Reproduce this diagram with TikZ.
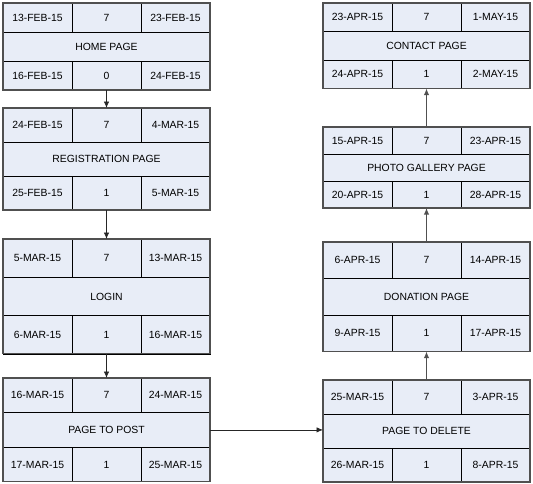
\documentclass[tikz,border=0pt]{standalone}
\usepackage{fontspec}
\setmainfont{Liberation Sans}
\usetikzlibrary{arrows.meta}
\definecolor{cellfill}{HTML}{E8EDF7}
\definecolor{edgegray}{HTML}{505050}
\tikzset{
  cell/.style={draw=black, line width=0.7pt, fill=cellfill, anchor=north west,
    inner sep=0pt, outer sep=0pt, minimum width=69pt, font=\fontsize{10.4}{12}\selectfont},
  titlecell/.style={cell, minimum width=207pt},
  frame/.style={draw=edgegray, line width=1.1pt},
  flow/.style={draw=black!85, line width=0.8pt, -{Latex[length=6.5pt,width=5.5pt]}},
  flowr/.style={draw=edgegray, line width=1.4pt, -{Latex[length=6.5pt,width=5.5pt]}}
}
% #1 name, #2 x, #3 top y, #4 row height, #5-#7 top row, #8 title, #9-#11 bottom row
\newcommand{\taskbox}[8]{%
  \node[cell, minimum height=#4pt] (#1-tl) at (#2, #3) {#5};
  \node[cell, minimum height=#4pt] (#1-tc) at (#2+69, #3) {#6};
  \node[cell, minimum height=#4pt] (#1-tr) at (#2+138, #3) {#7};
  \node[titlecell, minimum height=#4pt] (#1-title) at (#2, #3+#4) {#8};
  \taskboxlow{#1}{#2}{#3+2*#4}{#4}%
}
\newcommand{\taskboxlow}[7]{%
  \node[cell, minimum height=#4pt] (#1-bl) at (#2, #3) {#5};
  \node[cell, minimum height=#4pt] (#1-bc) at (#2+69, #3) {#6};
  \node[cell, minimum height=#4pt] (#1-br) at (#2+138, #3) {#7};
  \draw[frame] (#1-tl.north west) rectangle (#1-br.south east);
}
\begin{document}
\begin{tikzpicture}[x=1pt, y=-1pt]
\useasboundingbox (0,0) rectangle (533,483);
% left column
\taskbox{home}{3}{3}{29}{13-FEB-15}{7}{23-FEB-15}{HOME PAGE}{16-FEB-15}{0}{24-FEB-15}
\taskbox{reg}{3}{108}{34}{24-FEB-15}{7}{4-MAR-15}{REGISTRATION PAGE}{25-FEB-15}{1}{5-MAR-15}
\taskbox{login}{3}{239}{38.3}{5-MAR-15}{7}{13-MAR-15}{LOGIN}{6-MAR-15}{1}{16-MAR-15}
\taskbox{post}{3}{378}{34.6}{16-MAR-15}{7}{24-MAR-15}{PAGE TO POST}{17-MAR-15}{1}{25-MAR-15}
% right column
\taskbox{contact}{323}{3}{28.5}{23-APR-15}{7}{1-MAY-15}{CONTACT PAGE}{24-APR-15}{1}{2-MAY-15}
\taskbox{photo}{323}{127}{27}{15-APR-15}{7}{23-APR-15}{PHOTO GALLERY PAGE}{20-APR-15}{1}{28-APR-15}
\taskbox{don}{323}{242}{36.5}{6-APR-15}{7}{14-APR-15}{DONATION PAGE}{9-APR-15}{1}{17-APR-15}
\taskbox{del}{323}{380}{34}{25-MAR-15}{7}{3-APR-15}{PAGE TO DELETE}{26-MAR-15}{1}{8-APR-15}
% connectors
\draw[flow] (home-bc.south) -- (reg-tc.north);
\draw[flow] (reg-bc.south) -- (login-tc.north);
\draw[flow] (login-bc.south) -- (post-tc.north);
\draw[flow] (post-title.east) -- (post-title.east -| del-title.west);
\draw[flowr] (del-tc.north) -- (don-bc.south);
\draw[flowr] (don-tc.north) -- (photo-bc.south);
\draw[flowr] (photo-tc.north) -- (contact-bc.south);
\end{tikzpicture}
\end{document}
